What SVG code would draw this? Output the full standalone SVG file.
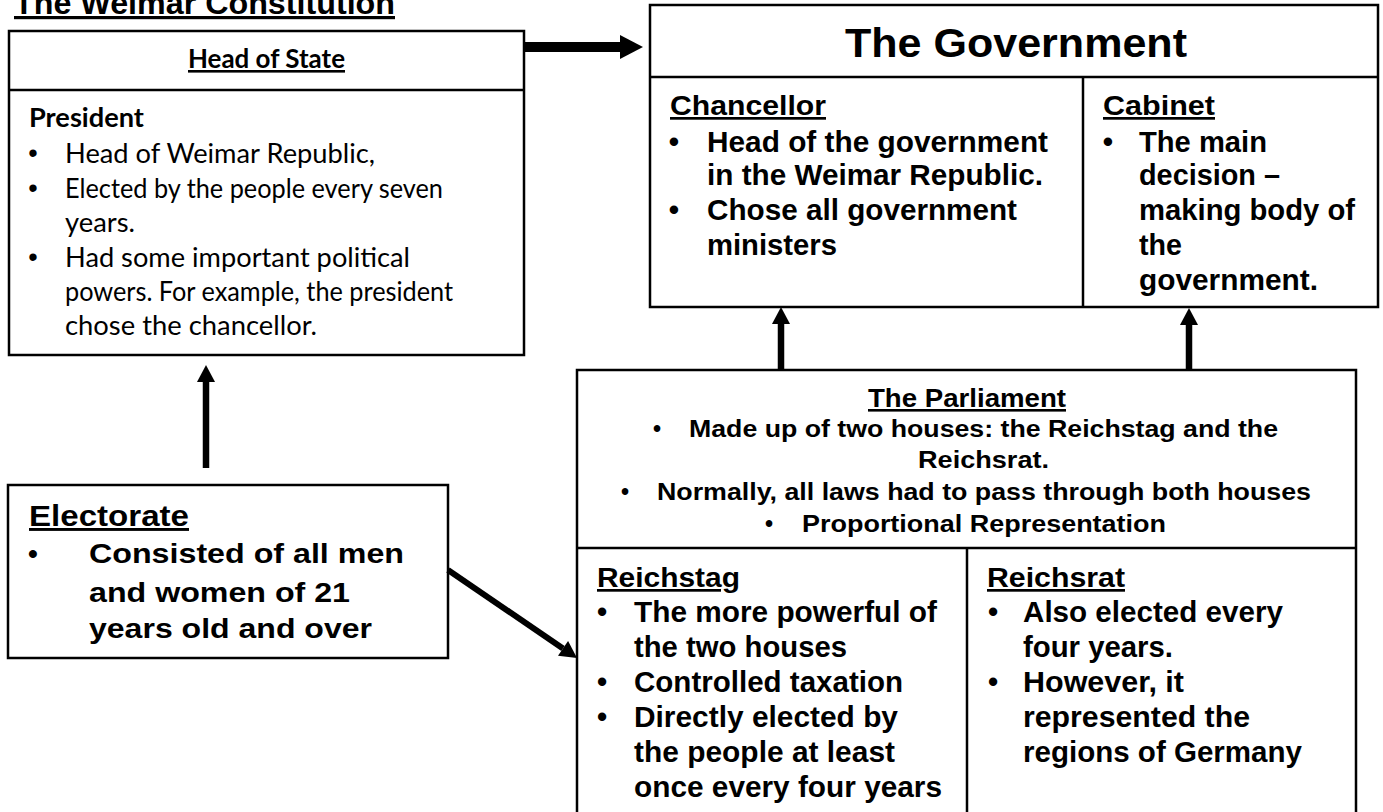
<svg xmlns="http://www.w3.org/2000/svg" width="1383" height="812" viewBox="0 0 1383 812">
<style>
.box{fill:#fff;stroke:#000;stroke-width:2.5}
.div{stroke:#000;stroke-width:2.5}
.a{font-family:"Liberation Sans",Arial,sans-serif;font-weight:bold;fill:#000}
.c{font-family:Lato,"Open Sans",sans-serif;fill:#000}
.cb{font-family:Lato,"Open Sans",sans-serif;font-weight:bold;fill:#000}
.u{text-decoration:underline}
.bul{text-anchor:middle}
.cbul{font-family:"Liberation Sans",Arial,sans-serif;font-size:27px;text-anchor:middle;fill:#000}
.con{stroke:#000;fill:none}
</style>
<defs>
<marker id="ah" markerUnits="userSpaceOnUse" markerWidth="18" markerHeight="18" refX="0" refY="9" orient="auto" viewBox="0 0 17 18">
<path d="M0,0 L17,9 L0,18 z" fill="#000"/>
</marker>
<marker id="ahb" markerUnits="userSpaceOnUse" markerWidth="23" markerHeight="24" refX="0" refY="12" orient="auto" viewBox="0 0 23 24">
<path d="M0,0 L23,12 L0,24 z" fill="#000"/>
</marker>
</defs>
<rect width="1383" height="812" fill="#fff"/>

<text class="a u" x="14" y="14" font-size="32" textLength="381" lengthAdjust="spacingAndGlyphs">The Weimar Constitution</text>

<g id="head-of-state">
<rect class="box" x="9" y="31" width="515" height="324"/>
<line class="div" x1="9" y1="90" x2="524" y2="90"/>
<text class="cb u" x="188" y="68" font-size="26" textLength="157" lengthAdjust="spacingAndGlyphs">Head of State</text>
<text class="cb" x="29" y="127" font-size="26" textLength="115" lengthAdjust="spacingAndGlyphs">President</text>
<text class="cbul" x="33" y="162">•</text>
<text class="cbul" x="33" y="197">•</text>
<text class="cbul" x="33" y="266">•</text>
<g class="c" font-size="27">
<text x="65" y="163" textLength="310" lengthAdjust="spacingAndGlyphs">Head of Weimar Republic,</text>
<text x="65" y="198" textLength="378" lengthAdjust="spacingAndGlyphs">Elected by the people every seven</text>
<text x="65" y="232" textLength="70" lengthAdjust="spacingAndGlyphs">years.</text>
<text x="65" y="267" textLength="345" lengthAdjust="spacingAndGlyphs">Had some important political</text>
<text x="65" y="301" textLength="388" lengthAdjust="spacingAndGlyphs">powers. For example, the president</text>
<text x="65" y="335" textLength="252" lengthAdjust="spacingAndGlyphs">chose the chancellor.</text>
</g>
</g>

<g id="government">
<rect class="box" x="650" y="5" width="728" height="302"/>
<line class="div" x1="650" y1="77" x2="1378" y2="77"/>
<line class="div" x1="1083" y1="77" x2="1083" y2="307"/>
<text class="a" x="845" y="57" font-size="41" textLength="342" lengthAdjust="spacingAndGlyphs">The Government</text>
<text class="a u" x="670" y="115" font-size="27" textLength="156" lengthAdjust="spacingAndGlyphs">Chancellor</text>
<g class="a" font-size="29.5">
<text class="bul" x="674" y="152">•</text>
<text x="707" y="152" textLength="341" lengthAdjust="spacingAndGlyphs">Head of the government</text>
<text x="707" y="185" textLength="336" lengthAdjust="spacingAndGlyphs">in the Weimar Republic.</text>
<text class="bul" x="674" y="220">•</text>
<text x="707" y="220" textLength="310" lengthAdjust="spacingAndGlyphs">Chose all government</text>
<text x="707" y="255" textLength="130" lengthAdjust="spacingAndGlyphs">ministers</text>
</g>
<text class="a u" x="1103" y="115" font-size="27" textLength="112" lengthAdjust="spacingAndGlyphs">Cabinet</text>
<g class="a" font-size="29.5">
<text class="bul" x="1108" y="152">•</text>
<text x="1139" y="152" textLength="128" lengthAdjust="spacingAndGlyphs">The main</text>
<text x="1139" y="185" textLength="141" lengthAdjust="spacingAndGlyphs">decision –</text>
<text x="1139" y="220" textLength="216" lengthAdjust="spacingAndGlyphs">making body of</text>
<text x="1139" y="255" textLength="43" lengthAdjust="spacingAndGlyphs">the</text>
<text x="1139" y="290" textLength="179" lengthAdjust="spacingAndGlyphs">government.</text>
</g>
</g>

<g id="parliament">
<rect class="box" x="577" y="370" width="779" height="460"/>
<line class="div" x1="577" y1="548" x2="1356" y2="548"/>
<line class="div" x1="967" y1="548" x2="967" y2="830"/>
<text class="a u" x="868" y="407" font-size="26" textLength="198" lengthAdjust="spacingAndGlyphs">The Parliament</text>
<g class="a" font-size="23">
<text class="bul" x="657" y="437">•</text>
<text x="689" y="437" textLength="589" lengthAdjust="spacingAndGlyphs">Made up of two houses: the Reichstag and the</text>
<text x="918" y="468" textLength="131" lengthAdjust="spacingAndGlyphs">Reichsrat.</text>
<text class="bul" x="625" y="500">•</text>
<text x="657" y="500" textLength="654" lengthAdjust="spacingAndGlyphs">Normally, all laws had to pass through both houses</text>
<text class="bul" x="769" y="532">•</text>
<text x="802" y="532" textLength="364" lengthAdjust="spacingAndGlyphs">Proportional Representation</text>
</g>
</g>

<g id="reichstag">
<text class="a u" x="597" y="587" font-size="27" textLength="143" lengthAdjust="spacingAndGlyphs">Reichstag</text>
<g class="a" font-size="29">
<text class="bul" x="602" y="622">•</text>
<text x="634" y="622" textLength="303" lengthAdjust="spacingAndGlyphs">The more powerful of</text>
<text x="634" y="657" textLength="213" lengthAdjust="spacingAndGlyphs">the two houses</text>
<text class="bul" x="602" y="692">•</text>
<text x="634" y="692" textLength="269" lengthAdjust="spacingAndGlyphs">Controlled taxation</text>
<text class="bul" x="602" y="727">•</text>
<text x="634" y="727" textLength="264" lengthAdjust="spacingAndGlyphs">Directly elected by</text>
<text x="634" y="762" textLength="261" lengthAdjust="spacingAndGlyphs">the people at least</text>
<text x="634" y="797" textLength="308" lengthAdjust="spacingAndGlyphs">once every four years</text>
</g>
</g>

<g id="reichsrat">
<text class="a u" x="987" y="587" font-size="27" textLength="138" lengthAdjust="spacingAndGlyphs">Reichsrat</text>
<g class="a" font-size="29">
<text class="bul" x="993" y="622">•</text>
<text x="1023" y="622" textLength="260" lengthAdjust="spacingAndGlyphs">Also elected every</text>
<text x="1023" y="657" textLength="150" lengthAdjust="spacingAndGlyphs">four years.</text>
<text class="bul" x="993" y="692">•</text>
<text x="1023" y="692" textLength="161" lengthAdjust="spacingAndGlyphs">However, it</text>
<text x="1023" y="727" textLength="227" lengthAdjust="spacingAndGlyphs">represented the</text>
<text x="1023" y="762" textLength="279" lengthAdjust="spacingAndGlyphs">regions of Germany</text>
</g>
</g>

<g id="electorate">
<rect class="box" x="8" y="485" width="440" height="173"/>
<text class="a u" x="29" y="526" font-size="29" textLength="160" lengthAdjust="spacingAndGlyphs">Electorate</text>
<g class="a" font-size="28">
<text class="bul" x="33" y="563">•</text>
<text x="89" y="563" textLength="315" lengthAdjust="spacingAndGlyphs">Consisted of all men</text>
<text x="89" y="602" textLength="261" lengthAdjust="spacingAndGlyphs">and women of 21</text>
<text x="89" y="638" textLength="283" lengthAdjust="spacingAndGlyphs">years old and over</text>
</g>
</g>

<g id="connectors">
<line class="con" x1="524" y1="47" x2="620" y2="47" stroke-width="10" marker-end="url(#ahb)"/>
<line class="con" x1="206" y1="468" x2="206" y2="382" stroke-width="6.5" marker-end="url(#ah)"/>
<line class="con" x1="781" y1="370" x2="781" y2="324" stroke-width="6.5" marker-end="url(#ah)"/>
<line class="con" x1="1189" y1="370" x2="1189" y2="325" stroke-width="6.5" marker-end="url(#ah)"/>
<line class="con" x1="448" y1="570" x2="563" y2="648.4" stroke-width="6" marker-end="url(#ah)"/>
</g>
</svg>
